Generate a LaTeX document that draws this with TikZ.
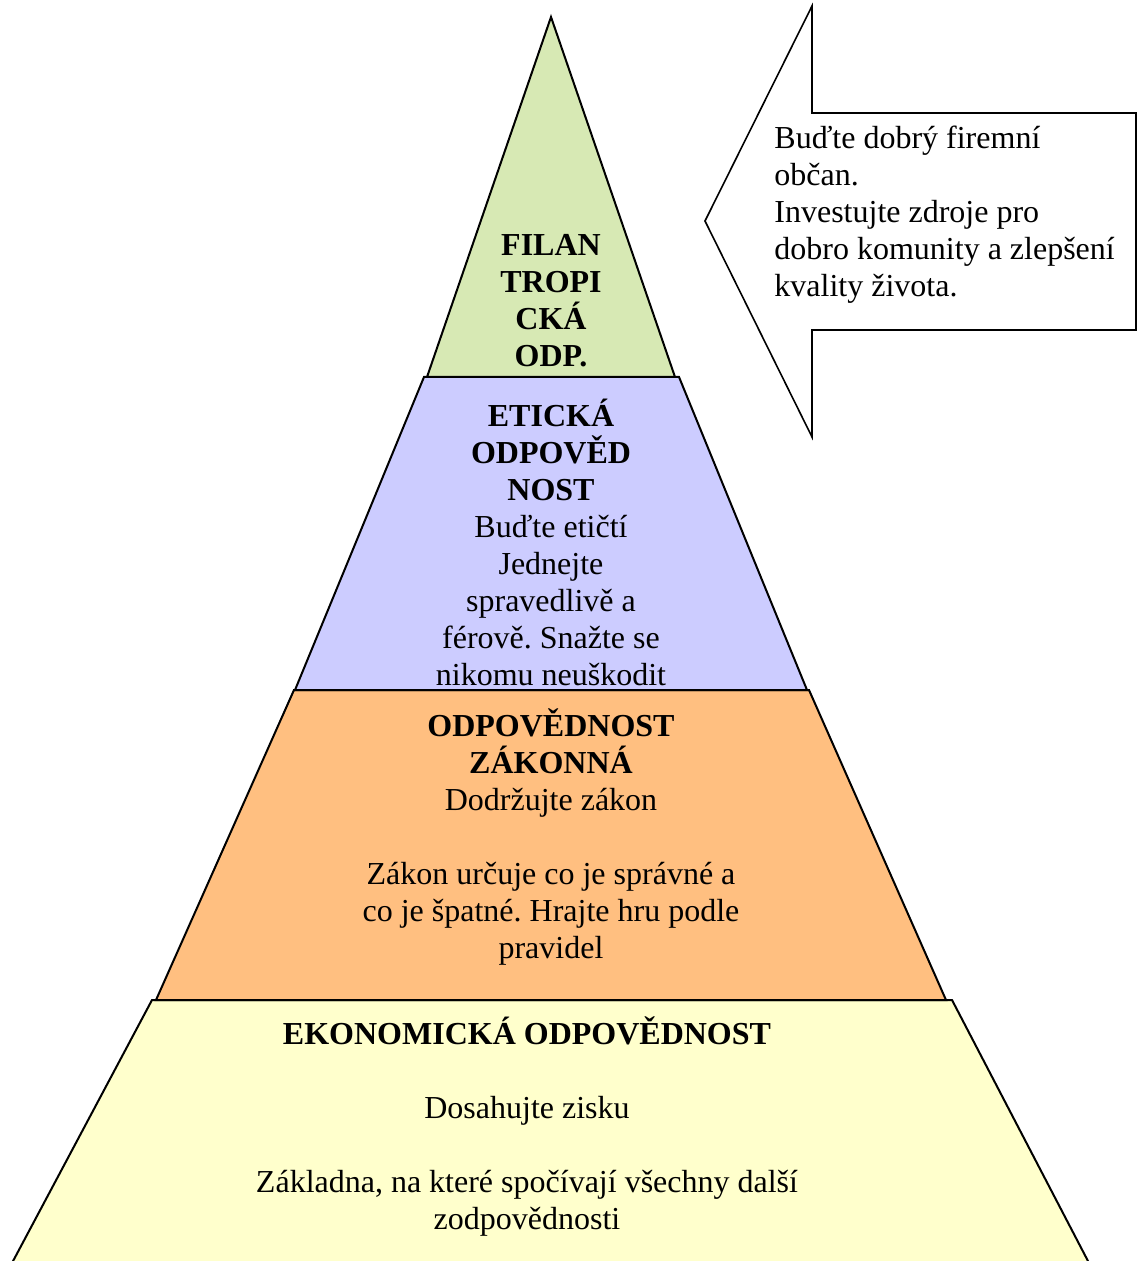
\documentclass[tikz,border=0pt]{standalone}
\usepackage{fontspec}
\setmainfont{Liberation Serif}
\frenchspacing

\definecolor{filgreen}{HTML}{D7E9B4}
\definecolor{etlilac}{HTML}{CCCCFF}
\definecolor{zakorange}{HTML}{FFBF80}
\definecolor{ekoyellow}{HTML}{FFFFCC}

\begin{document}
\begin{tikzpicture}[
      x=0.5pt, y={(0pt,-0.5pt)},
      layer/.style={draw, line width=1pt, line join=miter},
      callout/.style={draw, fill=white, line width=0.8pt, line join=miter},
      txt/.style={align=center, inner sep=0pt, font=\fontsize{16}{18.5}\selectfont}
    ]
    \useasboundingbox (0,0) rectangle (1137,1261);

    % pyramid layers, bottom up
    \draw [layer, fill=ekoyellow] (152,1000) -- (952,1000) -- (1089,1263) -- (12,1263) -- cycle;
    \draw [layer, fill=zakorange] (294,690) -- (809,690) -- (946,1000) -- (156,1000) -- cycle;
    \draw [layer, fill=etlilac] (424,377) -- (679,377) -- (807,690) -- (295,690) -- cycle;
    \draw [layer, fill=filgreen] (551,17) -- (675,377) -- (427,377) -- cycle;

    % arrow pointing at the top
    \draw [callout] (705,221) -- (812,6) -- (812,113) -- (1136,113) -- (1136,330) -- (812,330) -- (812,437) -- cycle;

    \node [txt] (filan) at (551,301) {\textbf{FILAN}\\ \textbf{TROPI}\\ \textbf{CKÁ}\\ \textbf{ODP.}};
    \node [txt] (eticka) at (551,542) {\textbf{ETICKÁ}\\ \textbf{ODPOVĚD}\\ \textbf{NOST}\\ Buďte etičtí\\ Jednejte\\ spravedlivě a\\ férově. Snažte se\\ nikomu neuškodit};
    \node [txt] (zakonna) at (551,837) {\textbf{ODPOVĚDNOST}\\ \textbf{ZÁKONNÁ}\\ Dodržujte zákon\\[18.5pt] Zákon určuje co je správné a\\ co je špatné. Hrajte hru podle\\ pravidel};
    \node [txt] (ekon) at (527,1127) {\textbf{EKONOMICKÁ ODPOVĚDNOST}\\[18.5pt] Dosahujte zisku\\[18.5pt] Základna, na které spočívají všechny další\\ zodpovědnosti};
    \node [txt, align=left, anchor=west] (obcan) at (774,215) {Buďte dobrý firemní\\ občan.\\ Investujte zdroje pro\\ dobro komunity a zlepšení\\ kvality života.};
  \end{tikzpicture}
\end{document}
